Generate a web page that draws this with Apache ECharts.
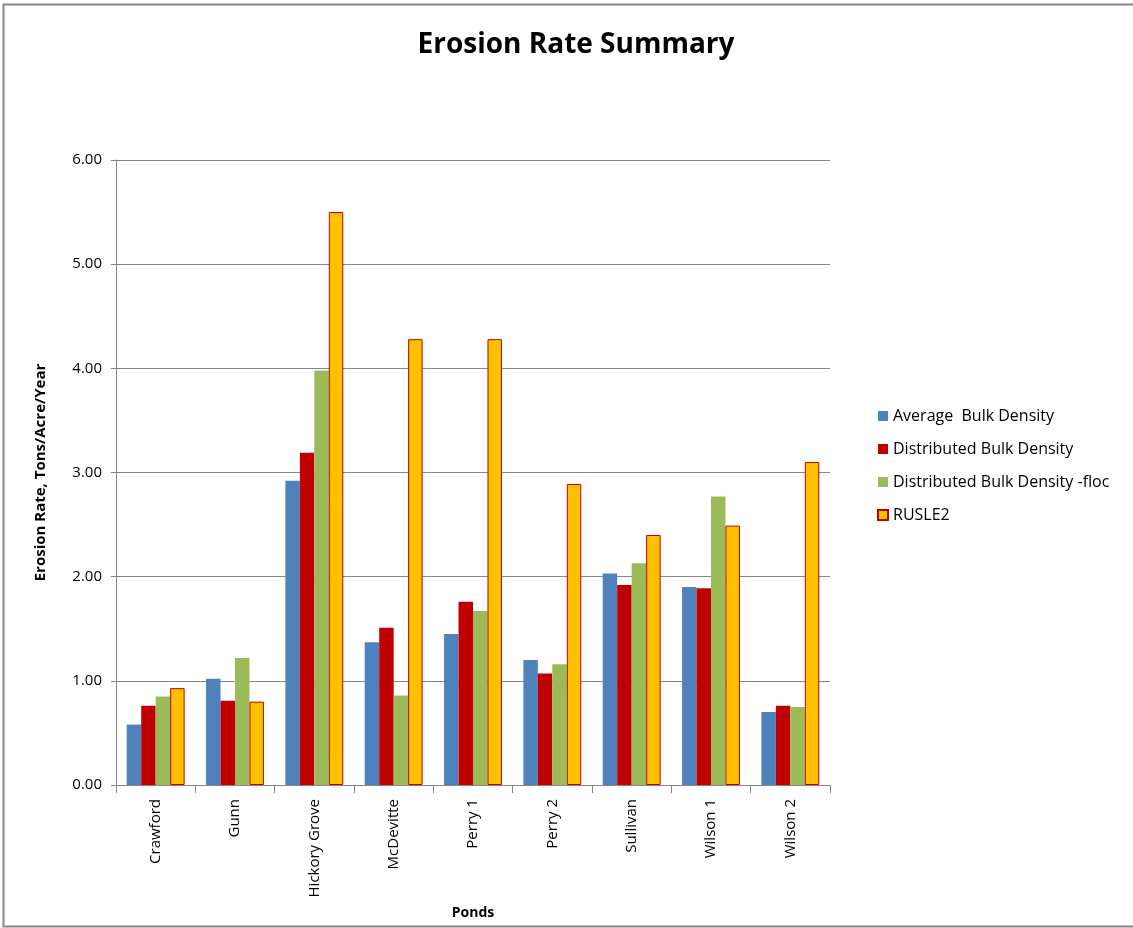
<!DOCTYPE html>
<html><head><meta charset="utf-8">
<script src="https://cdn.jsdelivr.net/npm/echarts@6/dist/echarts.min.js"></script>
<style>html,body{margin:0;padding:0;background:#fff}#c{width:1133px;height:928px}</style>
</head><body><div id="c"></div>
<script>
const categories = ['Crawford','Gunn','Hickory Grove','McDevitte','Perry 1','Perry 2','Sullivan','Wilson 1','Wilson 2'];
const avgBulk = [0.58,1.02,2.92,1.37,1.45,1.20,2.03,1.90,0.70];
const distBulk = [0.76,0.81,3.19,1.51,1.76,1.07,1.92,1.89,0.76];
const distFloc = [0.85,1.22,3.98,0.86,1.67,1.16,2.13,2.77,0.75];
const rusle2 = [0.93,0.80,5.50,4.28,4.28,2.89,2.40,2.49,3.10];
const yTicks = {min:0, max:6, interval:1};
const seriesNames = ['Average  Bulk Density','Distributed Bulk Density','Distributed Bulk Density -floc','RUSLE2'];

const font = 'Open Sans';
const chart = echarts.init(document.getElementById('c'));
chart.setOption({
  animation:false,
  textStyle:{fontFamily:font},
  title:{text:'Erosion Rate Summary',left:571,textAlign:'center',top:26,
    textStyle:{fontFamily:font,fontWeight:'bold',fontSize:28,color:'#000'}},
  graphic:[{type:'rect',shape:{x:3.5,y:4.5,width:1140,height:922},style:{fill:'none',stroke:'#868686',lineWidth:2},silent:true,z:-1}],
  legend:{orient:'vertical',left:872,top:403,itemWidth:10,itemHeight:10,itemGap:17,
    icon:'rect',textStyle:{fontFamily:font,fontSize:16,color:'#000'},
    data:seriesNames},
  grid:{left:116,right:303,top:160,bottom:143},
  xAxis:{type:'category',data:categories,
    name:'Ponds',nameLocation:'middle',nameGap:121,
    nameTextStyle:{fontFamily:font,fontWeight:'bold',fontSize:14,color:'#000'},
    axisLine:{lineStyle:{color:'#868686',width:1}},
    axisTick:{show:true,length:8,lineStyle:{color:'#868686'}},
    axisLabel:{rotate:90,fontSize:15,color:'#000',margin:14,fontFamily:font}},
  yAxis:{type:'value',min:yTicks.min,max:yTicks.max,interval:yTicks.interval,
    name:'Erosion Rate, Tons/Acre/Year',nameLocation:'middle',nameGap:68,
    nameTextStyle:{fontFamily:font,fontWeight:'bold',fontSize:15,color:'#000'},
    axisLine:{show:true,lineStyle:{color:'#868686'}},
    axisTick:{show:true,length:5,lineStyle:{color:'#868686'}},
    splitLine:{lineStyle:{color:'#868686'}},
    axisLabel:{formatter:v=>v.toFixed(2),fontSize:15,color:'#000',margin:14,fontFamily:font}},
  series:[
    {name:seriesNames[0],type:'bar',data:avgBulk,barGap:'0%',barCategoryGap:'27%',itemStyle:{color:'#4F81BD'}},
    {name:seriesNames[1],type:'bar',data:distBulk,barGap:'0%',barCategoryGap:'27%',itemStyle:{color:'#C00000'}},
    {name:seriesNames[2],type:'bar',data:distFloc,barGap:'0%',barCategoryGap:'27%',itemStyle:{color:'#9BBB59'}},
    {name:seriesNames[3],type:'bar',data:rusle2,barGap:'0%',barCategoryGap:'27%',itemStyle:{color:'#FFC000',borderColor:'#C00000',borderWidth:1}}
  ]
});
</script></body></html>
